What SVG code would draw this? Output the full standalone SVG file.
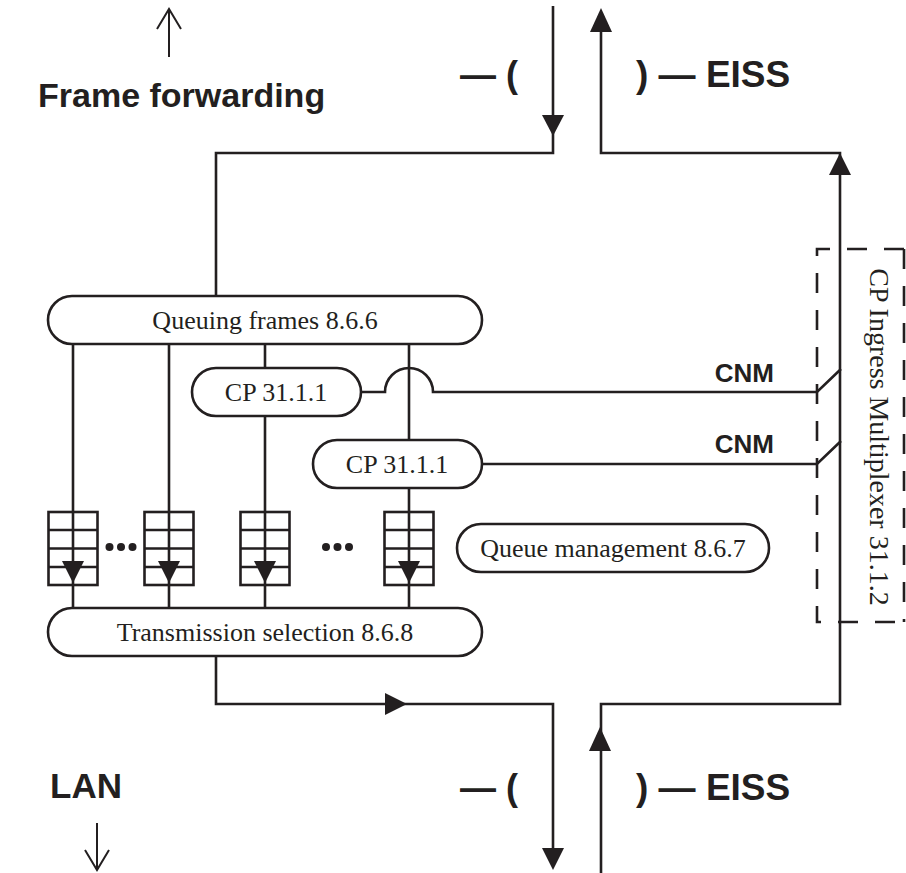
<svg xmlns="http://www.w3.org/2000/svg" width="906" height="873" viewBox="0 0 906 873">
<style>
.ln{fill:none;stroke:#231f20;stroke-width:2.6}
.thin{fill:none;stroke:#231f20;stroke-width:2}
.box{fill:#fff;stroke:#231f20;stroke-width:2.6}
.ah{fill:#231f20;stroke:none}
.t{font-family:"Liberation Serif","Times New Roman",serif;font-size:26px;fill:#231f20}
.b{font-family:"Liberation Sans",Arial,sans-serif;font-weight:bold;fill:#231f20}
.dash{fill:none;stroke:#231f20;stroke-width:2.6;stroke-dasharray:20 17}
</style>
<rect width="906" height="873" fill="#fff"/>

<g id="connectors">
  <path class="ln" d="M553,6 V153 H216 V296"/>
  <polygon class="ah" points="542,115 564,115 553,136"/>
  <path class="ln" d="M601,30 V153 H840 V704 H601 V873"/>
  <polygon class="ah" points="590,32 612,32 601,8"/>
  <polygon class="ah" points="829,175 851,175 840,153"/>
  <polygon class="ah" points="589,751 611,751 600,727"/>
  <path class="ln" d="M216,656 V704 H553 V850"/>
  <polygon class="ah" points="385,693 385,715 407,704"/>
  <polygon class="ah" points="542,848 564,848 553,870"/>
  <line class="ln" x1="73" y1="344" x2="73" y2="608"/>
  <line class="ln" x1="169" y1="344" x2="169" y2="608"/>
  <line class="ln" x1="265" y1="344" x2="265" y2="608"/>
  <line class="ln" x1="409" y1="344" x2="409" y2="608"/>
  <path class="ln" d="M361,392 H385 A24,24 0 0 1 433,392 H817 L841,369"/>
  <path class="ln" d="M482,464 H817 L841,441"/>
</g>

<g id="queuing-frames">
  <rect class="box" x="48" y="296" width="434" height="48" rx="24"/>
  <text class="t" x="265" y="329" text-anchor="middle">Queuing frames 8.6.6</text>
</g>

<g id="cp1">
  <rect class="box" x="192" y="368" width="169" height="48" rx="24"/>
  <text class="t" x="276" y="401" text-anchor="middle">CP 31.1.1</text>
</g>

<g id="cp2">
  <rect class="box" x="313" y="440" width="169" height="48" rx="24"/>
  <text class="t" x="397" y="473" text-anchor="middle">CP 31.1.1</text>
</g>

<g id="queues">
  <g id="q1">
    <rect class="box" x="48.5" y="512" width="49" height="73"/>
    <path class="ln" d="M48.5,530 H97.5 M48.5,548.5 H97.5 M48.5,567 H97.5 M73,512 V585"/>
    <polygon class="ah" points="62,561 84,561 73,583"/>
  </g>
  <g id="q2">
    <rect class="box" x="144.5" y="512" width="49" height="73"/>
    <path class="ln" d="M144.5,530 H193.5 M144.5,548.5 H193.5 M144.5,567 H193.5 M169,512 V585"/>
    <polygon class="ah" points="158,561 180,561 169,583"/>
  </g>
  <g id="q3">
    <rect class="box" x="240.5" y="512" width="49" height="73"/>
    <path class="ln" d="M240.5,530 H289.5 M240.5,548.5 H289.5 M240.5,567 H289.5 M265,512 V585"/>
    <polygon class="ah" points="254,561 276,561 265,583"/>
  </g>
  <g id="q4">
    <rect class="box" x="384.5" y="512" width="49" height="73"/>
    <path class="ln" d="M384.5,530 H433.5 M384.5,548.5 H433.5 M384.5,567 H433.5 M409,512 V585"/>
    <polygon class="ah" points="398,561 420,561 409,583"/>
  </g>
  <g id="dots" class="ah">
    <circle cx="109.5" cy="547" r="4"/>
    <circle cx="121" cy="547" r="4"/>
    <circle cx="132.5" cy="547" r="4"/>
    <circle cx="326" cy="547" r="4"/>
    <circle cx="337.5" cy="547" r="4"/>
    <circle cx="349" cy="547" r="4"/>
  </g>
</g>

<g id="queue-management">
  <rect class="box" x="457" y="524" width="312" height="48" rx="24"/>
  <text class="t" x="613" y="557" text-anchor="middle">Queue management 8.6.7</text>
</g>

<g id="transmission-selection">
  <rect class="box" x="48" y="608" width="434" height="48" rx="24"/>
  <text class="t" x="265" y="641" text-anchor="middle">Transmission selection 8.6.8</text>
</g>

<g id="cp-ingress-multiplexer">
  <path class="dash" d="M904,249 H817 V622 H904"/>
  <line class="dash" x1="904" y1="249" x2="904" y2="622"/>
  <text class="t" transform="translate(870,437) rotate(90)" text-anchor="middle" style="font-size:28px">CP Ingress Multiplexer 31.1.2</text>
</g>

<g id="labels">
  <text class="b" x="774" y="382" font-size="26" text-anchor="end">CNM</text>
  <text class="b" x="774" y="453" font-size="26" text-anchor="end">CNM</text>
  <text class="b" x="38" y="107" font-size="34">Frame forwarding</text>
  <text class="b" x="518" y="87" font-size="36" text-anchor="end">— (</text>
  <text class="b" x="636" y="87" font-size="37">) — EISS</text>
  <text class="b" x="50" y="798" font-size="35">LAN</text>
  <text class="b" x="518" y="800" font-size="36" text-anchor="end">— (</text>
  <text class="b" x="636" y="800" font-size="37">) — EISS</text>
</g>

<g id="direction-arrows">
  <path class="thin" d="M169,57 V10 M157,29 L169,9 L181,29"/>
  <path class="thin" d="M97,823 V869 M85,850 L97,870 L109,850"/>
</g>
</svg>
